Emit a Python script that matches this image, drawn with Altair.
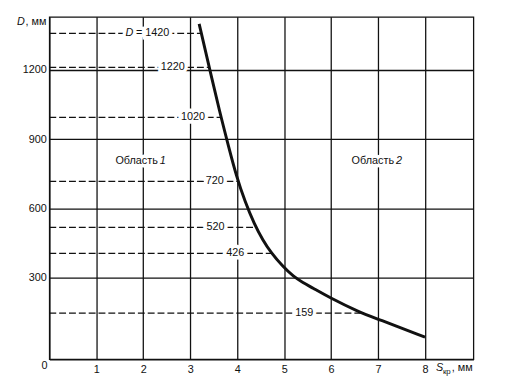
import altair as alt
import pandas as pd

# Critical-thickness curve  S_kr (mm)  vs  D (mm)
S_curve = [3.19, 3.40, 3.63, 3.82, 3.98, 4.17, 4.36, 4.55, 4.72, 4.97, 5.20, 5.40, 5.60, 5.96, 6.60, 6.98, 8.00]
D_curve = [1398, 1215, 1015, 866, 742, 628, 535, 462, 410, 350, 306, 280, 258, 216, 152, 124, 45]

# Dashed reference lines for pipe diameters
line_labels = ["= 1420", "1220", "1020", "720", "520", "426", "159"]
line_D = [1357, 1210, 994, 717, 519, 406, 148]
line_end_S = [3.24, 3.41, 3.66, 4.02, 4.40, 4.74, 6.63]
label_S = [1.845, 2.63, 3.06, 3.52, 3.54, 3.96, 5.43]
label_align = ["left", "center", "center", "center", "center", "center", "center"]

# Region labels
region_text = ["Область", "Область"]
region_num = ["1", "2"]
region_S = [2.31, 7.34]
region_D = [807, 804]

x_ticks = [1, 2, 3, 4, 5, 6, 7, 8]
y_ticks = [300, 600, 900, 1200]

FONT = "Liberation Sans"
INK = "#111111"

curve_df = pd.DataFrame({"S": S_curve, "D": D_curve})
lines_df = pd.DataFrame({"label": line_labels, "D": line_D, "S0": [0.0] * len(line_D),
                         "S1": line_end_S, "LS": label_S, "align": label_align})
region_df = pd.DataFrame({"txt": region_text, "num": region_num, "S": region_S, "D": region_D})

xs = alt.Scale(domain=[0, 9.03], nice=False, zero=False)
ys = alt.Scale(domain=[-51, 1428], nice=False, zero=False)

x_axis = alt.Axis(values=x_ticks, grid=True, gridColor=INK, gridWidth=1.3, domainColor=INK,
                  domainWidth=1.5, ticks=False, labelPadding=4, labelFontSize=11,
                  labelColor=INK, labelFont=FONT, title=None, format="d")
y_axis = alt.Axis(values=y_ticks, grid=True, gridColor=INK, gridWidth=1.3, domainColor=INK,
                  domainWidth=1.5, ticks=False, labelPadding=3, labelFontSize=11,
                  labelColor=INK, labelFont=FONT, title=None, format="d")


def X(field):
    return alt.X(f"{field}:Q", scale=xs, axis=x_axis)


def Y(field):
    return alt.Y(f"{field}:Q", scale=ys, axis=y_axis)


dashed = alt.Chart(lines_df).mark_rule(color=INK, strokeWidth=1.3, strokeDash=[7, 3]).encode(
    x=X("S0"), x2="S1:Q", y=Y("D"),
)

curve = alt.Chart(curve_df).mark_line(color=INK, strokeWidth=3, interpolate="basis").encode(
    x=X("S"), y=Y("D"),
)


def style(halo, **kw):
    if halo:
        kw.update(color="white", stroke="white", strokeWidth=7)
    else:
        kw.update(color=INK)
    return kw


def line_text(df, align, halo):
    kw = style(halo, font=FONT, fontSize=11, align=align, baseline="middle")
    return alt.Chart(df).mark_text(**kw).encode(x=X("LS"), y=Y("D"), text="label:N")


left_df = lines_df[lines_df["align"] == "left"]
center_df = lines_df[lines_df["align"] == "center"]

# italic "D" of the "D = 1420" label
d_df = pd.DataFrame({"LS": [1.79], "D": [line_D[0]], "label": ["D"]})


def d_text(halo):
    kw = style(halo, font=FONT, fontSize=11, fontStyle="italic", align="right", baseline="middle")
    return alt.Chart(d_df).mark_text(**kw).encode(x=X("LS"), y=Y("D"), text="label:N")


def region_layer(field, align, italic, dx, halo):
    kw = dict(font=FONT, fontSize=11, align=align, baseline="middle", dx=dx)
    if italic:
        kw["fontStyle"] = "italic"
    kw = style(halo, **kw)
    return alt.Chart(region_df).mark_text(**kw).encode(x=X("S"), y=Y("D"), text=f"{field}:N")


def annot(text, x, y, size=11, italic=False, align="left", baseline="alphabetic"):
    kw = dict(text=text, font=FONT, fontSize=size, color=INK, align=align, baseline=baseline)
    if italic:
        kw["fontStyle"] = "italic"
    return alt.Chart(alt.Data(values=[{}])).mark_text(**kw).encode(
        x=alt.value(x), y=alt.value(y))


titles = [
    annot("D", -25, 8, italic=True, align="right"),
    annot(", мм", -3, 8, align="right"),
    annot("S", 393, 360, italic=True),
    annot("кр", 400, 363, size=8),
    annot(", мм", 409, 360),
    annot("0", -5, 358, align="center"),
]

chart = alt.layer(
    dashed,
    curve,
    line_text(center_df, "center", True),
    line_text(left_df, "left", True),
    d_text(True),
    region_layer("txt", "right", False, 0, True),
    region_layer("num", "left", True, 2, True),
    line_text(center_df, "center", False),
    line_text(left_df, "left", False),
    d_text(False),
    region_layer("txt", "right", False, 0, False),
    region_layer("num", "left", True, 2, False),
    *titles,
).properties(
    width=431, height=348,
    autosize=alt.AutoSizeParams(type="none"),
    padding={"left": 42, "top": 6, "right": 26, "bottom": 15},
).configure_view(stroke=INK, strokeWidth=1.3)

chart.save("out.html", embed_options={"renderer": "svg", "actions": False})
